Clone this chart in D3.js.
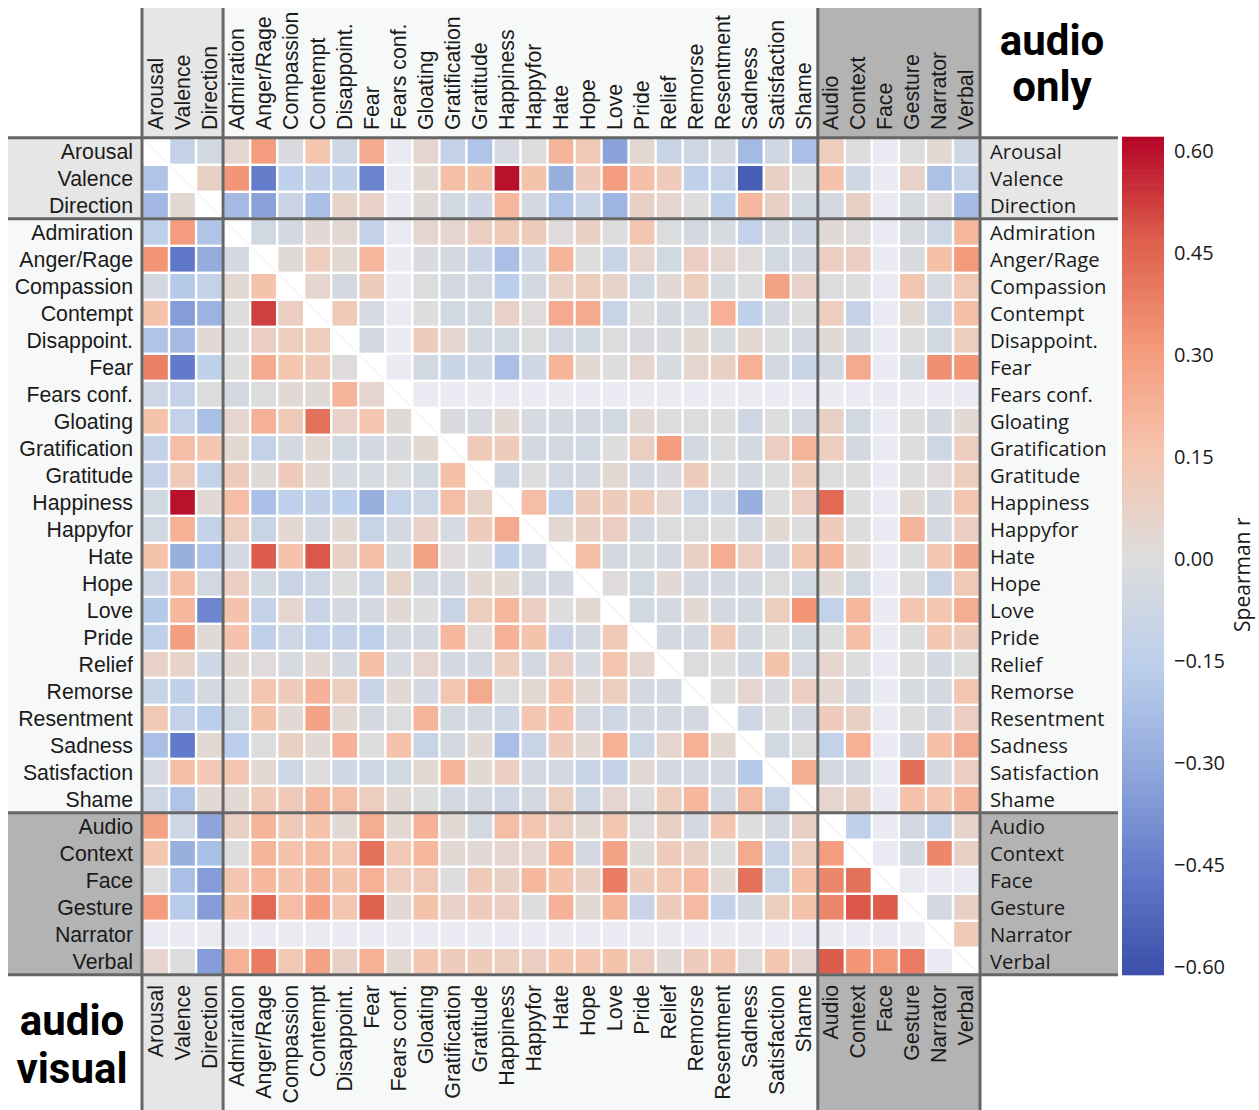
<!DOCTYPE html>
<html>
<head>
<meta charset="utf-8">
<script src="https://cdn.jsdelivr.net/npm/d3@7"></script>
<style>
  body { margin: 0; background: #fff; }
</style>
</head>
<body>
<svg id="chart" width="1259" height="1110"></svg>
<script>
// Variable groups: appraisal dimensions, emotion categories, cue sources
const affect = ["Arousal", "Valence", "Direction"];
const emotions = ["Admiration", "Anger/Rage", "Compassion", "Contempt", "Disappoint.", "Fear",
  "Fears conf.", "Gloating", "Gratification", "Gratitude", "Happiness", "Happyfor", "Hate",
  "Hope", "Love", "Pride", "Relief", "Remorse", "Resentment", "Sadness", "Satisfaction", "Shame"];
const cues = ["Audio", "Context", "Face", "Gesture", "Narrator", "Verbal"];

// Spearman r per row: above the diagonal = audio only, below = audio visual.
// null = no correlation available (constant ratings), diagonal left empty.
const rArousal      = [null,-0.12,-0.05,0.05,0.30,-0.02,0.15,-0.08,0.25,null, 0.05,-0.12,-0.20,-0.03,0.00,0.21,0.13,-0.33,0.04,-0.10, -0.08,-0.04,-0.24,-0.07,-0.22,0.10,0.00,null,0.00,0.03, -0.07];
const rValence      = [-0.20,null,0.08,0.32,-0.45,-0.14,-0.13,-0.13,-0.43,null, 0.04,0.17,0.17,0.60,0.16,-0.28,0.11,0.30,0.17,0.11, -0.14,-0.12,-0.56,0.08,0.00,0.16,-0.07,null,0.07,-0.21, -0.12];
const rDirection    = [-0.25,0.04,null,-0.24,-0.33,-0.10,-0.22,0.06,0.07,null, 0.02,-0.06,-0.07,0.20,-0.04,-0.20,-0.10,-0.26,0.08,0.05, 0.00,-0.14,0.20,0.08,-0.05,-0.04,0.08,null,-0.03,0.01, -0.23];
const rAdmiration   = [-0.14,0.30,-0.20,null,-0.06,-0.04,0.03,0.04,-0.12,null, 0.05,0.05,0.09,0.12,0.11,0.01,0.08,0.00,0.14,-0.01, -0.04,-0.03,-0.12,-0.04,-0.07,0.03,0.01,null,-0.03,-0.08, 0.20];
const rAnger        = [0.32,-0.47,-0.30,-0.04,null,0.02,0.10,0.04,0.20,null, -0.02,-0.04,-0.10,-0.22,-0.07,0.21,0.00,-0.10,0.05,-0.06, 0.09,0.05,0.01,-0.05,-0.04,0.09,0.09,null,-0.02,0.17, 0.31];
const rCompassion   = [-0.04,-0.18,-0.12,0.04,0.16,null,0.05,-0.04,0.11,null, -0.01,-0.04,-0.04,-0.16,-0.04,0.07,0.10,0.06,-0.06,0.03, 0.10,-0.03,0.00,0.28,0.07,-0.01,0.00,null,0.14,-0.03, 0.13];
const rContempt     = [0.16,-0.35,-0.27,0.00,0.52,0.09,null,0.12,-0.03,null, 0.00,-0.06,-0.05,0.07,0.01,0.25,0.25,-0.10,0.00,-0.04, -0.03,0.23,-0.14,-0.04,0.00,0.10,-0.11,null,0.03,-0.08, 0.17];
const rDisappoint   = [-0.20,-0.24,0.03,0.00,0.09,0.10,0.10,null,-0.04,null, 0.11,0.05,-0.04,-0.05,-0.01,-0.05,-0.05,-0.01,-0.02,-0.02, 0.04,-0.03,0.04,0.00,-0.04,0.02,-0.04,null,0.00,-0.05, 0.10];
const rFear         = [0.38,-0.46,-0.14,0.00,0.25,0.15,0.12,0.01,null,null, -0.05,-0.09,-0.07,-0.22,-0.07,0.21,0.03,0.00,0.05,-0.03, 0.05,0.08,0.23,-0.04,-0.10,-0.04,0.25,null,-0.03,0.34, 0.32];
const rFearsConf    = [-0.08,-0.12,-0.01,-0.04,-0.01,0.03,0.02,0.21,0.05,null, null,null,null,null,null,null,null,null,null,null, null,null,null,null,null,null,null,null,null,null, null];
const rGloating     = [0.16,-0.12,-0.22,0.05,0.22,0.12,0.42,0.07,0.15,0.02, null,-0.02,-0.03,0.03,-0.03,-0.04,-0.04,-0.06,0.03,-0.01, -0.01,0.00,-0.07,0.00,-0.04,0.08,-0.05,null,0.00,-0.04, 0.03];
const rGratification= [-0.12,0.18,0.14,0.04,-0.12,-0.04,0.04,-0.05,-0.04,-0.02, 0.03,null,0.12,0.11,-0.04,-0.05,-0.05,0.00,0.09,0.30, -0.04,-0.01,-0.04,0.09,0.21,0.10,-0.04,null,0.00,-0.08, 0.10];
const rGratitude    = [-0.12,0.12,-0.12,0.11,0.02,0.11,0.03,-0.03,-0.03,-0.01, -0.05,0.17,null,-0.08,0.00,-0.05,-0.04,0.04,-0.04,-0.02, 0.11,0.00,-0.04,0.00,0.10,-0.01,0.00,null,0.00,0.01, 0.10];
const rHappiness    = [-0.06,0.60,0.03,0.18,-0.22,-0.14,-0.13,-0.16,-0.28,-0.12, -0.08,0.18,0.07,null,0.18,-0.12,0.11,0.11,0.12,0.05, -0.08,-0.07,-0.28,0.00,0.09,0.44,0.00,null,0.03,-0.04, 0.14];
const rHappyfor     = [-0.06,0.23,-0.12,0.10,-0.10,0.04,-0.04,0.03,-0.10,-0.04, 0.07,-0.03,0.11,0.25,null,0.04,0.08,0.09,-0.04,-0.01, -0.01,0.00,-0.05,0.03,0.00,0.11,0.00,null,0.21,-0.04, 0.09];
const rHate         = [0.16,-0.28,-0.20,-0.04,0.47,0.16,0.48,0.08,0.17,-0.03, 0.28,0.01,0.00,-0.13,-0.08,null,0.17,-0.04,-0.03,-0.04, 0.08,0.24,0.09,-0.04,0.14,0.21,0.03,null,0.00,0.14, 0.26];
const rHope         = [-0.08,0.17,-0.05,0.09,-0.05,-0.10,-0.08,0.00,-0.08,0.06, -0.04,-0.04,0.04,0.03,-0.04,-0.04,null,0.01,-0.06,0.03, -0.04,-0.04,-0.04,-0.01,-0.05,0.03,-0.05,null,0.00,-0.10, 0.13];
const rLove         = [-0.18,0.20,-0.42,0.16,-0.12,0.05,-0.10,-0.04,-0.04,0.03, 0.00,-0.10,0.10,0.20,0.09,0.00,0.04,null,-0.06,-0.04, 0.04,-0.04,-0.04,0.10,0.32,-0.12,0.20,null,0.14,0.14, 0.24];
const rPride        = [-0.14,0.29,0.02,0.16,-0.14,-0.08,-0.12,-0.12,-0.14,-0.04, -0.04,0.20,0.01,0.22,0.16,-0.10,-0.04,0.13,null,-0.04, -0.04,0.13,-0.04,0.00,-0.05,0.00,0.17,null,0.00,0.14, 0.11];
const rRelief       = [0.07,0.06,-0.07,0.03,0.01,-0.03,0.03,-0.04,0.17,-0.03, 0.05,-0.04,-0.04,0.10,-0.04,0.09,-0.03,0.15,0.05,null, -0.01,0.00,-0.04,0.16,-0.03,0.05,0.00,null,0.00,-0.04, 0.00];
const rRemorse      = [-0.10,-0.13,-0.04,0.00,0.14,0.11,0.22,0.10,-0.10,0.03, -0.04,0.14,0.25,-0.01,0.04,0.15,0.03,0.10,-0.04,-0.04, null,0.00,0.05,-0.02,0.09,0.04,-0.04,null,-0.03,-0.04, 0.14];
const rResentment   = [0.13,-0.12,-0.16,-0.06,0.16,0.03,0.28,0.04,-0.04,-0.01, 0.21,-0.04,-0.04,-0.08,0.14,0.16,-0.04,-0.08,-0.04,-0.04, -0.04,null,-0.07,0.00,-0.04,0.11,0.08,null,0.00,-0.04, 0.09];
const rSadness      = [-0.22,-0.46,0.04,-0.16,-0.01,0.08,0.03,0.22,0.00,0.16, -0.10,-0.04,0.03,-0.22,-0.10,0.11,0.04,0.23,-0.08,0.05, 0.23,0.04,null,-0.06,-0.01,-0.12,0.23,null,-0.04,0.17, 0.25];
const rSatisfaction = [-0.03,0.17,0.13,0.14,0.03,-0.08,0.00,-0.07,-0.07,-0.06, 0.03,0.21,0.03,0.09,-0.04,-0.05,-0.10,-0.12,0.03,-0.04, -0.04,-0.04,-0.18,null,0.24,-0.04,-0.04,null,0.43,-0.04, 0.09];
const rShame        = [-0.08,-0.20,0.03,0.03,0.12,0.12,0.20,0.18,0.10,0.03, 0.00,-0.04,-0.04,-0.08,-0.04,0.10,-0.08,0.05,0.00,0.10, 0.20,-0.04,0.19,-0.10,null,0.05,0.08,null,0.16,0.15, 0.21];
const rAudio        = [0.28,-0.08,-0.32,0.08,0.21,0.12,0.16,0.03,0.24,0.04, 0.22,0.03,-0.04,0.18,0.14,0.10,0.04,0.14,0.01,0.08, -0.04,0.14,0.00,-0.04,0.08,null,-0.14,null,-0.05,-0.12, 0.06];
const rContext      = [0.14,-0.28,-0.22,0.00,0.21,0.16,0.19,0.14,0.42,0.13, 0.20,0.03,0.03,0.05,0.05,0.21,-0.04,0.28,0.02,0.11, 0.08,0.00,0.25,-0.10,0.10,0.30,null,null,-0.04,0.36, 0.08];
const rFace         = [-0.01,-0.22,-0.35,0.14,0.20,0.16,0.21,0.16,0.23,0.10, 0.13,0.00,0.12,0.08,0.20,0.16,0.08,0.39,0.11,0.13, 0.19,0.04,0.42,-0.10,0.17,0.36,0.42,null,null,null, null];
const rGesture      = [0.30,-0.17,-0.35,0.17,0.44,0.18,0.29,0.14,0.46,0.03, 0.16,0.07,0.11,0.09,0.00,0.22,0.03,0.21,-0.10,0.11, 0.19,-0.12,-0.04,0.10,0.16,0.36,0.48,0.47,null,-0.04, 0.08];
const rNarrator     = [null,null,null,null,null,null,null,null,null,null, null,null,null,null,null,null,null,null,null,null, null,null,null,null,null,null,null,null,null,null, 0.12];
const rVerbal       = [0.05,-0.01,-0.35,0.23,0.39,0.13,0.28,0.08,0.23,0.04, 0.14,0.11,0.11,0.10,0.09,0.15,0.15,0.16,0.10,0.03, 0.11,0.14,0.01,0.14,0.05,0.47,0.32,0.31,0.39,null, null];

// Colour bar ticks
const barTicks = [0.60, 0.45, 0.30, 0.15, 0.00, -0.15, -0.30, -0.45, -0.60];

const names = [...affect, ...emotions, ...cues];
const matrix = [rArousal, rValence, rDirection, rAdmiration, rAnger, rCompassion, rContempt,
  rDisappoint, rFear, rFearsConf, rGloating, rGratification, rGratitude, rHappiness, rHappyfor,
  rHate, rHope, rLove, rPride, rRelief, rRemorse, rResentment, rSadness, rSatisfaction, rShame,
  rAudio, rContext, rFace, rGesture, rNarrator, rVerbal];

const svg = d3.select("#chart");

// Layout
const gx0 = 142, gx1 = 980, gy0 = 137.8, gy1 = 974.8;
const top0 = 8, bottom1 = 1110, left0 = 8, right1 = 1118;
const x = d3.scaleBand().domain(names).range([gx0, gx1]).paddingInner(0.09).paddingOuter(0.045);
const y = d3.scaleBand().domain(names).range([gy0, gy1]).paddingInner(0.09).paddingOuter(0.045);
const step = x.step(), ystep = y.step();

// Muted cool–warm diverging scale centred at 0
const vmax = 0.62;
const divergingStops = ["#3a4ca8", "#5f78c8", "#91a8dc", "#bccfeb", "#dddddd", "#f5c4ad", "#f49a7b", "#de604d", "#b40426"];
const color = d3.scaleLinear()
  .domain(d3.range(9).map(k => -vmax + k * (2 * vmax / 8)))
  .range(divergingStops)
  .interpolate(d3.interpolateRgb)
  .clamp(true);
const missingFill = "#e9eaf2";

// Group extents (index ranges)
const groupSpans = [
  { from: 0, to: affect.length, fill: "#e6e6e6" },
  { from: affect.length, to: affect.length + emotions.length, fill: "#f7f8f8" },
  { from: affect.length + emotions.length, to: names.length, fill: "#b3b3b3" }
];
const colEdge = k => gx0 + k * step;
const rowEdge = k => gy0 + k * ystep;

// Label panels
const panels = svg.append("g");
groupSpans.forEach(g => {
  panels.append("rect").attr("x", colEdge(g.from)).attr("y", top0)
    .attr("width", colEdge(g.to) - colEdge(g.from)).attr("height", gy0 - top0).attr("fill", g.fill);
  panels.append("rect").attr("x", colEdge(g.from)).attr("y", gy1)
    .attr("width", colEdge(g.to) - colEdge(g.from)).attr("height", bottom1 - gy1).attr("fill", g.fill);
  panels.append("rect").attr("x", left0).attr("y", rowEdge(g.from))
    .attr("width", gx0 - left0).attr("height", rowEdge(g.to) - rowEdge(g.from)).attr("fill", g.fill);
  panels.append("rect").attr("x", gx1).attr("y", rowEdge(g.from))
    .attr("width", right1 - gx1).attr("height", rowEdge(g.to) - rowEdge(g.from)).attr("fill", g.fill);
});
svg.append("rect").attr("x", gx0).attr("y", gy0).attr("width", gx1 - gx0).attr("height", gy1 - gy0).attr("fill", "#fff");

// Cells
const cells = [];
matrix.forEach((row, i) => row.forEach((v, j) => cells.push({ i, j, v })));
const cellG = svg.append("g");
cellG.selectAll("rect.cell").data(cells).join("rect")
  .attr("class", "cell")
  .attr("x", d => x(names[d.j]))
  .attr("y", d => y(names[d.i]))
  .attr("width", x.bandwidth())
  .attr("height", y.bandwidth())
  .attr("fill", d => d.i === d.j ? "#ffffff" : (d.v == null ? missingFill : color(d.v)));
cellG.selectAll("line.diag").data(cells.filter(d => d.i === d.j)).join("line")
  .attr("class", "diag")
  .attr("x1", d => x(names[d.j])).attr("y1", d => y(names[d.i]))
  .attr("x2", d => x(names[d.j]) + x.bandwidth()).attr("y2", d => y(names[d.i]) + y.bandwidth())
  .attr("stroke", "#ececec").attr("stroke-width", 1);

// Group separators
const sepColor = "#666666", sepW = 3;
const sepG = svg.append("g");
[0, affect.length, affect.length + emotions.length, names.length].forEach(k => {
  sepG.append("line").attr("x1", colEdge(k)).attr("x2", colEdge(k)).attr("y1", top0).attr("y2", bottom1)
    .attr("stroke", sepColor).attr("stroke-width", sepW);
  sepG.append("line").attr("x1", left0).attr("x2", right1).attr("y1", rowEdge(k)).attr("y2", rowEdge(k))
    .attr("stroke", sepColor).attr("stroke-width", sepW);
});

// Axis labels
const labelFont = "'Liberation Sans', Arial, sans-serif";
const labelSize = "21.3px";
const textCol = "#1a1a1a";
const lab = svg.append("g").attr("fill", textCol).attr("font-family", labelFont).attr("font-size", labelSize);
names.forEach(n => {
  const cx = x(n) + x.bandwidth() / 2;
  const cy = y(n) + y.bandwidth() / 2;
  lab.append("text").attr("transform", `translate(${cx},130) rotate(-90)`)
    .attr("dominant-baseline", "central").attr("text-anchor", "start").text(n);
  lab.append("text").attr("transform", `translate(${cx},985) rotate(-90)`)
    .attr("dominant-baseline", "central").attr("text-anchor", "end").text(n);
  lab.append("text").attr("x", 133).attr("y", cy + 1)
    .attr("dominant-baseline", "central").attr("text-anchor", "end").text(n);
  lab.append("text").attr("x", 990).attr("y", cy)
    .attr("dominant-baseline", "central").attr("text-anchor", "start")
    .attr("font-family", "'Open Sans', sans-serif").attr("font-size", "20.3px").text(n);
});

// Triangle titles
const titleG = svg.append("g").attr("font-family", "Roboto, 'Open Sans', sans-serif")
  .attr("font-weight", 700).attr("font-size", "42px").attr("fill", "#000").attr("text-anchor", "middle");
titleG.append("text").attr("x", 1052).attr("y", 55).text("audio");
titleG.append("text").attr("x", 1052).attr("y", 101).text("only");
titleG.append("text").attr("x", 72).attr("y", 1035).text("audio");
titleG.append("text").attr("x", 72).attr("y", 1083).text("visual");

// Colour bar
const barX = 1122, barW = 42;
const barY = d3.scaleLinear().domain([-0.612, vmax]).range([975, 137]);
const barG = svg.append("g");
const nSteps = 300;
const barVals = d3.range(nSteps).map(k => -0.612 + (k + 0.5) * (vmax + 0.612) / nSteps);
const sliceH = (barY(-0.612) - barY(vmax)) / nSteps;
barG.selectAll("rect").data(barVals).join("rect")
  .attr("x", barX).attr("width", barW)
  .attr("y", v => barY(v) - sliceH / 2 - 0.3).attr("height", sliceH + 0.6)
  .attr("fill", v => color(v));
const barAxis = svg.append("g").attr("font-family", "'Open Sans', sans-serif").attr("font-size", "20px").attr("fill", textCol);
barTicks.forEach(t => {
  barAxis.append("text").attr("x", barX + barW + 10).attr("y", barY(t))
    .attr("dominant-baseline", "central").text(d3.format(".2f")(t));
});
svg.append("text").attr("transform", `translate(1242,${barY(0) + 16}) rotate(-90)`)
  .attr("text-anchor", "middle").attr("dominant-baseline", "central")
  .attr("font-family", "'Open Sans', sans-serif").attr("font-size", "21px").attr("fill", textCol)
  .text("Spearman r");
</script>
</body>
</html>
